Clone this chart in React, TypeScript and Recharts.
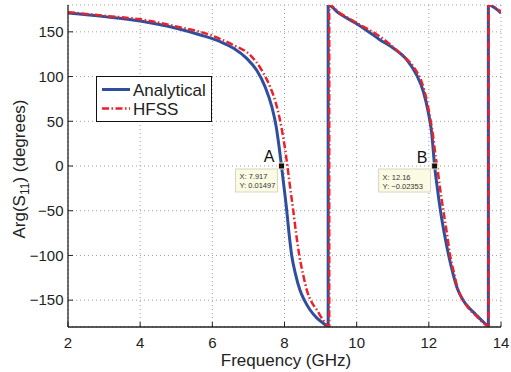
import React from "react";
import { LineChart, Line, XAxis, YAxis, CartesianGrid, ReferenceDot } from "recharts";

const FONT = '"Liberation Sans", Arial, Helvetica, sans-serif';
const BLUE = "#2f4f9e";
const RED = "#e8232b";
const INK = "#222";

const xTicks = [2, 4, 6, 8, 10, 12, 14];
const yTicks = [-150, -100, -50, 0, 50, 100, 150];

// Analytical phase of S11 (deg) vs frequency (GHz)
const analyticalFreq = [
  2, 3, 4, 5, 5.67, 6.22, 6.59, 6.96, 7.23, 7.46, 7.65, 7.77, 7.85, 7.917, 7.97, 8.06, 8.13, 8.2,
  8.3, 8.43, 8.55, 8.71, 8.9, 9.05, 9.21, 9.21, 9.5, 10, 10.3, 10.65, 11.02, 11.39, 11.66, 11.85,
  11.99, 12.08, 12.16, 12.22, 12.33, 12.45, 12.55, 12.68, 12.79, 12.95, 13.1, 13.3, 13.5, 13.65,
  13.65, 14,
];
const analyticalArg = [
  171, 167, 162, 154, 146.5, 139, 131.6, 120, 107, 88.7, 66, 44, 21.6, 0, -18, -49, -77, -100,
  -120, -139, -150, -161, -170, -175, -179, 180, 171, 159, 151, 141, 131.6, 118.6, 101.8, 83,
  59, 36.5, 0, -20, -52, -80, -100, -122, -137, -150, -158, -166, -174, -179,
  180, 171,
];

// HFSS simulation
const hfssFreq = [
  2, 3, 4, 5, 5.94, 6.59, 7.05, 7.37, 7.6, 7.79, 7.93, 8.02, 8.08, 8.16, 8.24, 8.32, 8.41, 8.52,
  8.62, 8.75, 8.9, 9.05, 9.24, 9.24, 9.5, 10, 10.65, 11.2, 11.57, 11.8, 11.94, 12.03, 12.12, 12.19,
  12.23, 12.3, 12.4, 12.5, 12.59, 12.7, 12.8, 12.95, 13.1, 13.3, 13.5, 13.66, 13.66, 14,
];
const hfssArg = [
  172, 168, 164, 156, 146.5, 135, 124, 107, 88.7, 66, 40, 18, 0, -25, -49, -75, -100, -122,
  -139, -152, -161, -171, -179, 180, 172, 160, 144.6, 126, 111, 94, 74, 55, 33, 10,
  0, -22, -49, -75, -100, -120, -137, -150, -159, -167, -175, -179, 180, 172,
];

const tipNames = ["A", "B"];
const tipX = [7.917, 12.16];
const tipY = [0.01497, -0.02353];
const tipXText = ["X: 7.917", "X: 12.16"];
const tipYText = ["Y: 0.01497", "Y: \u22120.02353"];

const analytical = analyticalFreq.map((f, i) => ({ f, v: analyticalArg[i] }));
const hfss = hfssFreq.map((f, i) => ({ f, v: hfssArg[i] }));

const tipBoxWidth: Record<string, number> = { A: 42, B: 52 };

function minus(v: unknown): string {
  return String(v).replace("-", "\u2212");
}

function DataTip(props: any, i: number) {
  const { cx, cy } = props;
  const name = tipNames[i];
  const w = tipBoxWidth[name];
  const left = cx - 4 - w;
  return (
    <g>
      <rect x={left} y={cy + 3} width={w} height={23} fill="#fbfbe4" stroke="#d6d6c2" strokeWidth={1} />
      <text x={left + 4} y={cy + 13.5} fontSize={7.5} fill="#333" fontFamily={FONT}>
        {tipXText[i]}
      </text>
      <text x={left + 4} y={cy + 22.5} fontSize={7.5} fill="#333" fontFamily={FONT}>
        {tipYText[i]}
      </text>
      <text x={cx - 12.5} y={cy - 3.5} fontSize={16} textAnchor="middle" fill="#111" fontFamily={FONT}>
        {name}
      </text>
      <rect x={cx - 3} y={cy - 3} width={6} height={6} fill="#111" stroke="#f3eec0" strokeWidth={1} />
    </g>
  );
}

function XLabel() {
  return (
    <text x={286} y={365.5} textAnchor="middle" fontSize={17} fill={INK} fontFamily={FONT}>
      Frequency (GHz)
    </text>
  );
}

function YLabel() {
  return (
    <text
      x={24.5}
      y={169}
      transform="rotate(-90 24.5 169)"
      textAnchor="middle"
      fontSize={17}
      fill={INK}
      fontFamily={FONT}
    >
      Arg(S
      <tspan fontSize={12} dy={4}>
        11
      </tspan>
      <tspan dy={-4}>) (degrees)</tspan>
    </text>
  );
}

function LegendBox() {
  return (
    <div
      style={{
        position: "absolute",
        left: 96,
        top: 76,
        width: 116,
        height: 46,
        border: "1px solid #111",
        background: "#fff",
        boxSizing: "border-box",
      }}
    >
      <svg width={116} height={46} style={{ display: "block", position: "absolute", left: -1, top: -1 }}>
        <line x1={6} y1={13.5} x2={34} y2={13.5} stroke={BLUE} strokeWidth={3} />
        <text x={37} y={19.5} fontSize={17} fill={INK} fontFamily={FONT}>
          Analytical
        </text>
        <line x1={6} y1={32.5} x2={34} y2={32.5} stroke={RED} strokeWidth={2.5} strokeDasharray="7 2.5 1.5 2.5" />
        <text x={37} y={39} fontSize={17} fill={INK} fontFamily={FONT}>
          HFSS
        </text>
      </svg>
    </div>
  );
}

export default function App() {
  const axisLine = { stroke: INK, strokeWidth: 1.3 };
  const tickLine = { stroke: INK, strokeWidth: 1 };
  const tick = { fill: INK, fontSize: 15, fontFamily: FONT };
  return (
    <div
      style={{
        position: "absolute",
        left: 0,
        top: 0,
        width: 511,
        height: 372,
        background: "#fff",
        fontFamily: FONT,
      }}
    >
      <LineChart width={511} height={372} margin={{ top: 5, right: 10, bottom: 0, left: 0 }}>
        <CartesianGrid stroke="#a0a0a0" strokeDasharray="1 3" />
        <XAxis
          dataKey="f"
          type="number"
          domain={[2, 14]}
          ticks={xTicks}
          interval={0}
          allowDataOverflow
          height={45}
          tickSize={-5}
          tickMargin={15}
          axisLine={axisLine}
          tickLine={tickLine}
          tick={tick}
          label={<XLabel />}
        />
        <XAxis
          xAxisId="top"
          orientation="top"
          type="number"
          domain={[2, 14]}
          ticks={xTicks}
          interval={0}
          allowDataOverflow
          height={0}
          tickSize={-5}
          axisLine={axisLine}
          tickLine={tickLine}
          tickFormatter={() => ""}
        />
        <YAxis
          type="number"
          domain={[-180, 180]}
          ticks={yTicks}
          interval={0}
          allowDataOverflow
          width={68}
          tickSize={-5}
          tickMargin={9.5}
          axisLine={axisLine}
          tickLine={tickLine}
          tick={tick}
          tickFormatter={minus}
          label={<YLabel />}
        />
        <YAxis
          yAxisId="right"
          orientation="right"
          type="number"
          domain={[-180, 180]}
          ticks={yTicks}
          interval={0}
          allowDataOverflow
          width={0}
          tickSize={-5}
          axisLine={axisLine}
          tickLine={tickLine}
          tickFormatter={() => ""}
        />
        <Line
          data={analytical}
          dataKey="v"
          type="monotone"
          stroke={BLUE}
          strokeWidth={3}
          dot={false}
          activeDot={false}
          isAnimationActive={false}
        />
        <Line
          data={hfss}
          dataKey="v"
          type="monotone"
          stroke={RED}
          strokeWidth={2.5}
          strokeDasharray="7 2.5 1.5 2.5"
          dot={false}
          activeDot={false}
          isAnimationActive={false}
        />
        {tipNames.map((n, i) => (
          <ReferenceDot key={n} x={tipX[i]} y={tipY[i]} shape={(p: any) => DataTip(p, i)} />
        ))}
      </LineChart>
      <LegendBox />
    </div>
  );
}
